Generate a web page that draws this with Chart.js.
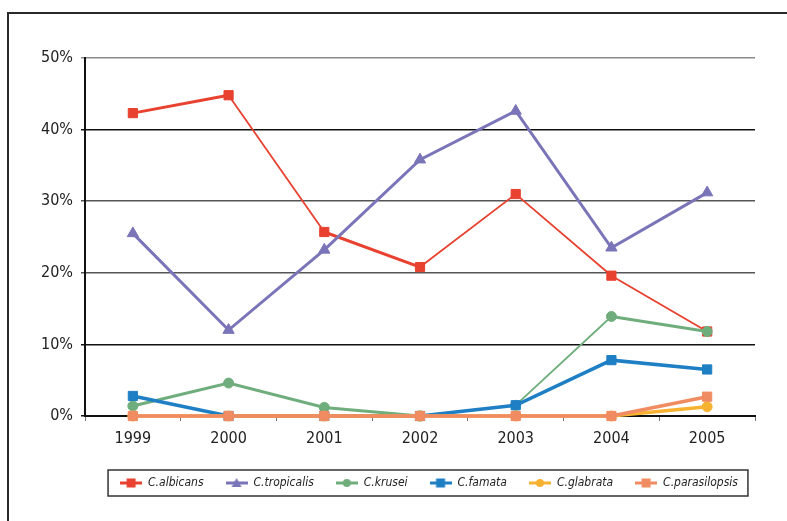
<!DOCTYPE html>
<html><head><meta charset="utf-8">
<script src="https://cdn.jsdelivr.net/npm/chart.js@4/dist/chart.umd.min.js"></script>
<style>
html,body{margin:0;padding:0;background:#fff;}
#wrap{position:relative;width:787px;height:521px;overflow:hidden;}
#frame{position:absolute;left:7px;top:12px;width:820px;height:600px;border-top:2px solid #2a2a2a;border-left:2px solid #2a2a2a;}
canvas{position:absolute;left:0;top:0;}
</style></head>
<body><div id="wrap"><div id="frame"></div><canvas id="c" width="787" height="521"></canvas></div>
<script>
const years = ['1999','2000','2001','2002','2003','2004','2005'];
const albicans = [42.3, 44.8, 25.7, 20.8, 31.0, 19.6, 11.8];
const tropicalis = [25.5, 12.0, 23.2, 35.8, 42.6, 23.5, 31.2];
const krusei = [1.4, 4.6, 1.2, 0, 1.5, 13.9, 11.8];
const famata = [2.8, 0, 0, 0, 1.5, 7.8, 6.5];
const glabrata = [0, 0, 0, 0, 0, 0, 1.3];
const parasilopsis = [0, 0, 0, 0, 0, 0, 2.7];
const seriesNames = ['C.albicans','C.tropicalis','C.krusei','C.famata','C.glabrata','C.parasilopsis'];
const yTicks = [0, 10, 20, 30, 40, 50];

const FONT = '"Liberation Sans Narrow", "DejaVu Sans Condensed", "Liberation Sans", sans-serif';
const styles = [
  {color:'#e8412f', point:'rect', r:6.5, widths:[3,1.8,3,1.8,1.8,1.8], order:6},
  {color:'#7a74b8', point:'triangle', r:6.5, widths:[3,3,3,3,3,3], order:5},
  {color:'#6fae7c', point:'circle', r:5, widths:[3,3,3,1.8,1.8,3], order:4},
  {color:'#1e7fc4', point:'rect', r:6.5, widths:[3.5,3.5,3.5,3.5,3.5,3.5], order:3},
  {color:'#f7b232', point:'circle', r:5, widths:[3.5,3.5,3.5,3.5,3.5,3.5], order:2},
  {color:'#f08b62', point:'rect', r:6.5, widths:[3.5,3.5,3.5,3.5,3.5,3.5], order:1}
];
const values = [albicans, tropicalis, krusei, famata, glabrata, parasilopsis];

function legendIcon(st){
  const c = document.createElement('canvas');
  c.width = 22; c.height = 12;
  const x = c.getContext('2d');
  x.strokeStyle = st.color; x.fillStyle = st.color; x.lineWidth = 3;
  x.beginPath(); x.moveTo(0,6); x.lineTo(22,6); x.stroke();
  const cx = 11, cy = 6;
  x.beginPath();
  if (st.point === 'rect') { x.rect(cx-4.5, cy-4.5, 9, 9); }
  else if (st.point === 'triangle') { x.moveTo(cx, cy-5); x.lineTo(cx+5, cy+4); x.lineTo(cx-5, cy+4); x.closePath(); }
  else { x.arc(cx, cy, 4, 0, Math.PI*2); }
  x.fill();
  return c;
}
const icons = styles.map(legendIcon);

const datasets = values.map((vals, i) => ({
  label: seriesNames[i],
  data: vals,
  borderColor: styles[i].color,
  backgroundColor: styles[i].color,
  pointBackgroundColor: styles[i].color,
  pointBorderColor: styles[i].color,
  pointBorderWidth: 1,
  pointStyle: styles[i].point,
  pointRadius: styles[i].r,
  borderWidth: 3,
  order: styles[i].order,
  clip: false,
  tension: 0,
  segment: { borderWidth: ctx => styles[i].widths[ctx.p0DataIndex] }
}));

const gridColor = v => ({50:'#8a8a8a', 40:'#111', 30:'#555', 20:'#555', 10:'#111', 0:'#111'}[v] || '#555');

const legendBox = {
  id: 'legendBox',
  afterLayout(chart){
    const lg = chart.legend;
    if (lg) { lg.left += 9; lg.right += 9; }
  },
  afterDraw(chart){
    const lg = chart.legend;
    if (!lg || !lg.legendHitBoxes.length) return;
    const hb = lg.legendHitBoxes;
    let l = Infinity, r = -Infinity, t = Infinity, b = -Infinity;
    hb.forEach(h => { l = Math.min(l, h.left); r = Math.max(r, h.left + h.width); t = Math.min(t, h.top); b = Math.max(b, h.top + h.height); });
    const ctx = chart.ctx;
    ctx.save();
    ctx.strokeStyle = '#333'; ctx.lineWidth = 1.5;
    ctx.strokeRect(l - 12, t - 7, (r - l) + 22, (b - t) + 14);
    ctx.restore();
  }
};

new Chart(document.getElementById('c'), {
  type: 'line',
  data: { labels: years, datasets },
  plugins: [legendBox],
  options: {
    responsive: false,
    animation: false,
    layout: { padding: { left: 0, right: 32, top: 58, bottom: 22 } },
    plugins: {
      tooltip: { enabled: false },
      legend: {
        position: 'bottom',
        fullSize: false,
        labels: {
          usePointStyle: true,
          pointStyleWidth: 22,
          padding: 22,
          color: '#222',
          font: { family: FONT, size: 12, style: 'italic' },
          sort: (a, b) => a.datasetIndex - b.datasetIndex,
          generateLabels(chart){
            const items = Chart.defaults.plugins.legend.labels.generateLabels(chart);
            items.forEach(it => { it.pointStyle = icons[it.datasetIndex]; });
            return items;
          }
        }
      }
    },
    scales: {
      x: {
        offset: true,
        afterFit(s){ s.height = 39; },
        grid: { offset: true, drawOnChartArea: false, drawTicks: true, tickLength: 5, color: '#777', lineWidth: 1 },
        border: { color: '#111', width: 2 },
        ticks: { color: '#222', padding: 8, font: { family: FONT, size: 16 } }
      },
      y: {
        min: 0, max: 50,
        afterFit(s){ s.width = 85; },
        afterBuildTicks(s){ s.ticks = yTicks.map(v => ({ value: v })); },
        grid: { color: c => gridColor(c.tick && c.tick.value), lineWidth: 1.5, tickLength: 4 },
        border: { color: '#111', width: 2 },
        ticks: { color: '#222', padding: 8, font: { family: FONT, size: 16 }, callback: v => v + '%' }
      }
    }
  }
});
</script>
</body></html>
